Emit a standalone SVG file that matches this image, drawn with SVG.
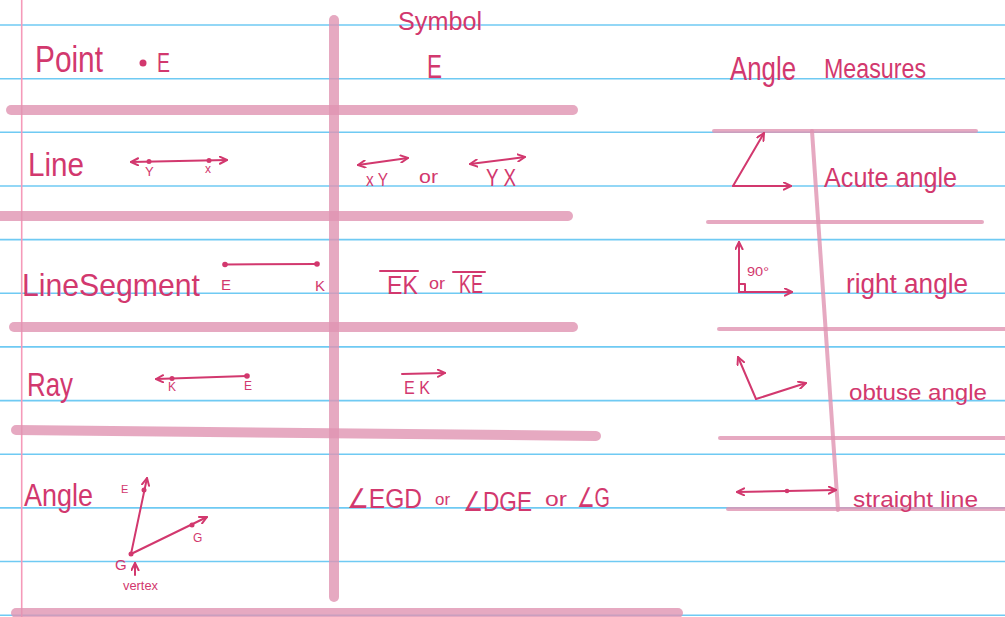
<svg xmlns="http://www.w3.org/2000/svg" width="1005" height="617" viewBox="0 0 1005 617">
<defs>
<style>
.bl{stroke:#6fcaf3;stroke-width:1.6}
.th{stroke:#e094b1;stroke-opacity:0.8;stroke-width:10;stroke-linecap:round;fill:none}
.tn{stroke:#e094b1;stroke-opacity:0.8;stroke-width:4;stroke-linecap:round;fill:none}
.ink{stroke:#d2386e;stroke-width:2;fill:none;stroke-linecap:round;stroke-linejoin:round}
.t{fill:#d2386e;font-family:"Liberation Sans",Arial,sans-serif}
.dot{fill:#d2386e}
</style>
<marker id="ah" viewBox="0 0 10 10" refX="9" refY="5" markerWidth="9" markerHeight="9" markerUnits="userSpaceOnUse" orient="auto-start-reverse">
<path d="M1,1 L9,5 L1,9" fill="none" stroke="#d2386e" stroke-width="2.2" stroke-linecap="round" stroke-linejoin="round"/>
</marker>
</defs>
<rect width="1005" height="617" fill="#ffffff"/>
<g id="paper">
<line class="bl" x1="0" y1="25" x2="1005" y2="25"/>
<line class="bl" x1="0" y1="78.7" x2="1005" y2="78.7"/>
<line class="bl" x1="0" y1="132.3" x2="1005" y2="132.3"/>
<line class="bl" x1="0" y1="186" x2="1005" y2="186"/>
<line class="bl" x1="0" y1="239.6" x2="1005" y2="239.6"/>
<line class="bl" x1="0" y1="293.3" x2="1005" y2="293.3"/>
<line class="bl" x1="0" y1="346.9" x2="1005" y2="346.9"/>
<line class="bl" x1="0" y1="400.6" x2="1005" y2="400.6"/>
<line class="bl" x1="0" y1="454.2" x2="1005" y2="454.2"/>
<line class="bl" x1="0" y1="507.9" x2="1005" y2="507.9"/>
<line class="bl" x1="0" y1="561.5" x2="1005" y2="561.5"/>
<line class="bl" x1="0" y1="615.2" x2="1005" y2="615.2"/>
<line x1="21.7" y1="0" x2="21.7" y2="617" stroke="#f59ab9" stroke-width="1.6"/>
</g>
<g id="connectors">
<line class="th" x1="334" y1="20" x2="334" y2="597"/>
<line class="th" x1="11" y1="110" x2="573" y2="110"/>
<line class="th" x1="0" y1="216" x2="568" y2="216"/>
<line class="th" x1="14" y1="327" x2="573" y2="327"/>
<line class="th" x1="16" y1="430" x2="596" y2="436"/>
<line class="th" x1="16" y1="613" x2="678" y2="613"/>
<line class="tn" x1="714" y1="131" x2="976" y2="131"/>
<line class="tn" x1="708" y1="222" x2="982" y2="222"/>
<line class="tn" x1="719" y1="329" x2="1005" y2="329"/>
<line class="tn" x1="720" y1="438" x2="1005" y2="438"/>
<line class="tn" x1="728" y1="509" x2="1005" y2="509" stroke="#b88fc0"/>
<line class="tn" x1="812" y1="131" x2="838" y2="510"/>
</g>
<g id="point">
<text class="t" x="35" y="72" font-size="36" textLength="68" lengthAdjust="spacingAndGlyphs">Point</text>
<circle class="dot" cx="143" cy="63" r="3.5"/>
<text class="t" x="157" y="72" font-size="27" textLength="13" lengthAdjust="spacingAndGlyphs">E</text>
<text class="t" x="398" y="30" font-size="26" textLength="84" lengthAdjust="spacingAndGlyphs">Symbol</text>
<text class="t" x="427" y="78" font-size="34" textLength="15" lengthAdjust="spacingAndGlyphs">E</text>
</g>
<g id="line">
<text class="t" x="28" y="176" font-size="34" textLength="56" lengthAdjust="spacingAndGlyphs">Line</text>
<line class="ink" x1="131" y1="162" x2="227" y2="160" marker-start="url(#ah)" marker-end="url(#ah)"/>
<circle class="dot" cx="149" cy="161.5" r="2.5"/>
<circle class="dot" cx="209" cy="160.5" r="2.5"/>
<text class="t" x="145" y="176" font-size="13">Y</text>
<text class="t" x="205" y="173" font-size="12">x</text>
<line class="ink" x1="358" y1="165" x2="408" y2="158" marker-start="url(#ah)" marker-end="url(#ah)"/>
<text class="t" x="366" y="186" font-size="19" textLength="22" lengthAdjust="spacingAndGlyphs">x Y</text>
<text class="t" x="419" y="183" font-size="18" textLength="19" lengthAdjust="spacingAndGlyphs">or</text>
<line class="ink" x1="470" y1="164" x2="525" y2="157" marker-start="url(#ah)" marker-end="url(#ah)"/>
<text class="t" x="486" y="186" font-size="23" textLength="30" lengthAdjust="spacingAndGlyphs">Y X</text>
</g>
<g id="segment">
<text class="t" x="22" y="296" font-size="32" textLength="178" lengthAdjust="spacingAndGlyphs">LineSegment</text>
<line class="ink" x1="225" y1="264.5" x2="317" y2="264"/>
<circle class="dot" cx="225" cy="264.5" r="2.8"/>
<circle class="dot" cx="317" cy="264" r="2.8"/>
<text class="t" x="221" y="290" font-size="15" textLength="10" lengthAdjust="spacingAndGlyphs">E</text>
<text class="t" x="315" y="291" font-size="15" textLength="10" lengthAdjust="spacingAndGlyphs">K</text>
<line class="ink" x1="380" y1="271" x2="418" y2="271"/>
<text class="t" x="387" y="294" font-size="25" textLength="31" lengthAdjust="spacingAndGlyphs">EK</text>
<text class="t" x="429" y="289" font-size="16" textLength="16" lengthAdjust="spacingAndGlyphs">or</text>
<line class="ink" x1="453" y1="272" x2="485" y2="272"/>
<text class="t" x="459" y="293" font-size="25" textLength="24" lengthAdjust="spacingAndGlyphs">KE</text>
</g>
<g id="ray">
<text class="t" x="27" y="396" font-size="34" textLength="46" lengthAdjust="spacingAndGlyphs">Ray</text>
<line class="ink" x1="247" y1="376" x2="156" y2="379" marker-end="url(#ah)"/>
<circle class="dot" cx="172" cy="378.5" r="2.5"/>
<circle class="dot" cx="247" cy="376" r="2.8"/>
<text class="t" x="168" y="391" font-size="12">K</text>
<text class="t" x="244" y="390" font-size="12">E</text>
<line class="ink" x1="402" y1="374" x2="445" y2="373" marker-end="url(#ah)"/>
<text class="t" x="404" y="394" font-size="18" textLength="26" lengthAdjust="spacingAndGlyphs">E K</text>
</g>
<g id="angle">
<text class="t" x="24" y="506" font-size="32" textLength="69" lengthAdjust="spacingAndGlyphs">Angle</text>
<line class="ink" x1="131" y1="554" x2="147" y2="478" marker-end="url(#ah)"/>
<line class="ink" x1="131" y1="554" x2="207" y2="517" marker-end="url(#ah)"/>
<circle class="dot" cx="144" cy="490" r="2.5"/>
<circle class="dot" cx="192" cy="525" r="2.5"/>
<circle class="dot" cx="131" cy="554" r="2.5"/>
<text class="t" x="121" y="493" font-size="11">E</text>
<text class="t" x="193" y="542" font-size="12">G</text>
<text class="t" x="115" y="570" font-size="15">G</text>
<line class="ink" x1="135" y1="575" x2="135" y2="563" marker-end="url(#ah)"/>
<text class="t" x="123" y="590" font-size="13" textLength="35" lengthAdjust="spacingAndGlyphs">vertex</text>
<text class="t" x="347" y="508" font-size="27" textLength="75" lengthAdjust="spacingAndGlyphs">∠EGD</text>
<text class="t" x="435" y="505" font-size="17" textLength="15" lengthAdjust="spacingAndGlyphs">or</text>
<text class="t" x="463" y="511" font-size="27" textLength="69" lengthAdjust="spacingAndGlyphs">∠DGE</text>
<text class="t" x="545" y="506" font-size="21" textLength="22" lengthAdjust="spacingAndGlyphs">or</text>
<text class="t" x="577" y="507" font-size="27" textLength="33" lengthAdjust="spacingAndGlyphs">∠G</text>
</g>
<g id="measures">
<text class="t" x="730" y="80" font-size="34" textLength="66" lengthAdjust="spacingAndGlyphs">Angle</text>
<text class="t" x="824" y="78" font-size="27" textLength="102" lengthAdjust="spacingAndGlyphs">Measures</text>
</g>
<g id="acute">
<line class="ink" x1="733" y1="186" x2="764" y2="133" marker-end="url(#ah)"/>
<line class="ink" x1="733" y1="186" x2="791" y2="186" marker-end="url(#ah)"/>
<text class="t" x="824" y="187" font-size="28" textLength="133" lengthAdjust="spacingAndGlyphs">Acute angle</text>
</g>
<g id="right">
<line class="ink" x1="739" y1="292" x2="739" y2="242" marker-end="url(#ah)"/>
<line class="ink" x1="739" y1="292" x2="792" y2="292" marker-end="url(#ah)"/>
<polyline class="ink" points="739,284 745,284 745,292" stroke-width="1.5"/>
<text class="t" x="747" y="276" font-size="13" textLength="22" lengthAdjust="spacingAndGlyphs">90°</text>
<text class="t" x="846" y="293" font-size="27" textLength="122" lengthAdjust="spacingAndGlyphs">right angle</text>
</g>
<g id="obtuse">
<line class="ink" x1="756" y1="399" x2="738" y2="357" marker-end="url(#ah)"/>
<line class="ink" x1="756" y1="399" x2="806" y2="383" marker-end="url(#ah)"/>
<text class="t" x="849" y="400" font-size="22" textLength="138" lengthAdjust="spacingAndGlyphs">obtuse angle</text>
</g>
<g id="straight">
<line class="ink" x1="737" y1="492" x2="836" y2="490" marker-start="url(#ah)" marker-end="url(#ah)"/>
<circle class="dot" cx="787" cy="491" r="2.3"/>
<text class="t" x="853" y="507" font-size="22" textLength="125" lengthAdjust="spacingAndGlyphs">straight line</text>
</g>
</svg>
